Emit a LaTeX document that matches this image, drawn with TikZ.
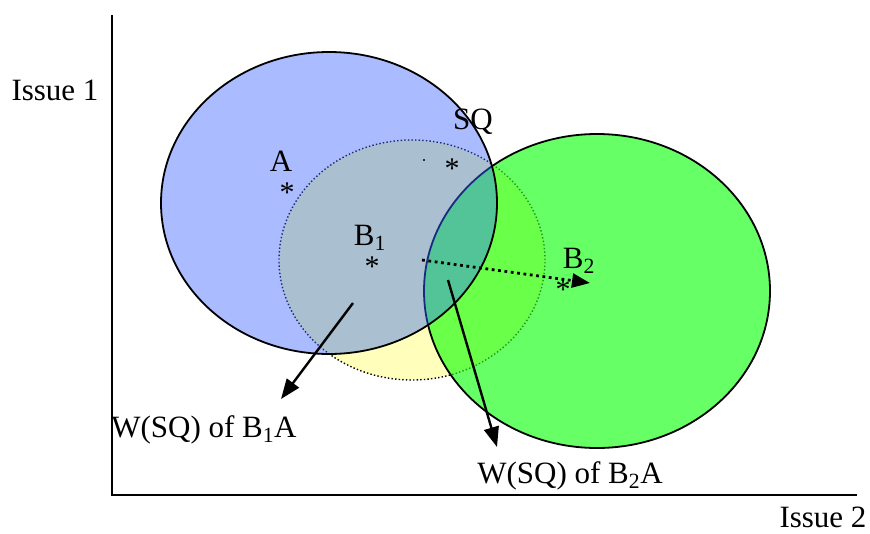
\documentclass[tikz,border=0pt]{standalone}
\usepackage{fontspec}
\setmainfont{Liberation Serif}
\usetikzlibrary{arrows.meta}
\definecolor{yelf}{HTML}{FFFFBB}
\definecolor{grnf}{HTML}{66FF66}
\definecolor{gyf}{HTML}{6AFF48}
\definecolor{bluef}{HTML}{AABBFF}
\definecolor{byf}{HTML}{AABFD0}
\definecolor{bgf}{HTML}{52C497}
\definecolor{navyl}{HTML}{1A2A80}
\definecolor{dgrn}{HTML}{1E9A1E}
\begin{document}
\begin{tikzpicture}[x=1pt,y=-1pt,
  lbl/.style={font=\fontsize{31}{37}\selectfont, inner sep=0pt, anchor=base},
  ast/.style={font=\fontsize{30}{36}\selectfont, inner sep=0pt, anchor=base},
  be/.style={x radius=168pt, y radius=151pt},
  ye/.style={x radius=133pt, y radius=120pt},
  ge/.style={x radius=173pt, y radius=157pt},
  outl/.style={line width=1.8pt},
  ydot/.style={line width=1.4pt, dash pattern=on 1.4pt off 2.2pt},
  arr/.style={line width=2.4pt, -{Triangle[length=20pt,width=15pt]}},
  darr/.style={line width=2.8pt, dash pattern=on 2.8pt off 3.6pt, -{Triangle[length=18pt,width=14pt]}},
  axisline/.style={line width=1.8pt}]
\useasboundingbox (0,0) rectangle (870,533);
\coordinate (bc) at (329,203);
\coordinate (yc) at (412,260);
\coordinate (gc) at (597,291);
% yellow
\fill[yelf] (yc) ellipse[ye];
\draw[ydot] (yc) ellipse[ye];
% green
\fill[grnf] (gc) ellipse[ge];
\begin{scope}
  \clip (gc) ellipse[ge];
  \fill[gyf] (yc) ellipse[ye];
  \draw[ydot, dgrn] (yc) ellipse[ye];
\end{scope}
\draw[outl] (gc) ellipse[ge];
% blue
\fill[bluef] (bc) ellipse[be];
\begin{scope}
  \clip (bc) ellipse[be];
  \fill[byf] (yc) ellipse[ye];
  \fill[bgf] (gc) ellipse[ge];
  \draw[ydot, navyl] (yc) ellipse[ye];
  \draw[outl, navyl] (gc) ellipse[ge];
\end{scope}
\draw[outl] (bc) ellipse[be];
% axes
\coordinate (ytop) at (112,15);
\coordinate (orig) at (112,495);
\coordinate (xend) at (857,495);
\draw[axisline] (ytop) -- (orig) -- (xend);
\node[lbl] (iss1) at (55,100) {Issue 1};
\node[lbl] (iss2) at (823,527) {Issue 2};
% labels
\node[lbl] (sq) at (473,129) {SQ};
\node[lbl] (la) at (281,171) {A};
\node[lbl] (lb1) at (370,245) {B\textsubscript{1}};
\node[lbl] (lb2) at (579,268) {B\textsubscript{2}};
\node[ast] (asa) at (287,202) {*};
\node[ast] (assq) at (452,178) {*};
\node[ast] (asb1) at (372,276) {*};
\node[ast] (asb2) at (563,299) {*};
\node[circle, fill=black, inner sep=0pt, minimum size=2.2pt] (dot) at (424,160) {};
% arrows
\coordinate (d1) at (422,260);
\coordinate (d2) at (590,283);
\draw[darr] (d1) -- (d2);
\coordinate (a1s) at (353,303);
\coordinate (a1e) at (281,399);
\draw[arr] (a1s) -- (a1e);
\coordinate (a2s) at (448,280);
\coordinate (a2e) at (497,447);
\draw[arr] (a2s) -- (a2e);
\node[lbl] (w1) at (204,437) {W(SQ) of B\textsubscript{1}A};
\node[lbl] (w2) at (570,483) {W(SQ) of B\textsubscript{2}A};
\end{tikzpicture}
\end{document}
